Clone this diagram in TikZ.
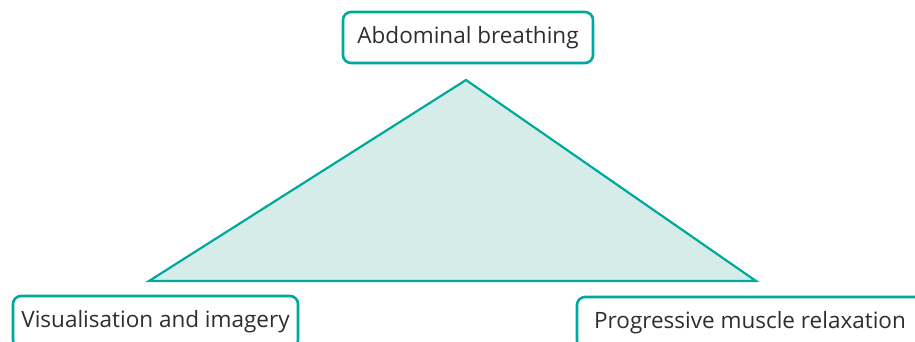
\documentclass[tikz,border=0pt]{standalone}
\usepackage{fontspec}
\setmainfont{Open Sans}
\definecolor{teal1}{HTML}{00A99D}
\definecolor{tealfill}{HTML}{D5ECE9}
\definecolor{txt}{HTML}{2E2E2E}
\begin{document}
\begin{tikzpicture}[x=1pt,y=-1pt,
  labelbox/.style={draw=teal1,line width=2.6pt,rounded corners=8pt,fill=white,
    text=txt,font=\fontsize{22.5}{26}\selectfont,inner sep=0pt,align=center},
]
\useasboundingbox (0,0) rectangle (915,341);
\clip (0,0) rectangle (915,341);
\coordinate (apex) at (466,80);
\coordinate (bl) at (149,281);
\coordinate (br) at (756,281);
\draw[teal1,fill=tealfill,line width=2.2pt,line join=miter] (apex) -- (br) -- (bl) -- cycle;
\node[labelbox,minimum width=250pt,minimum height=51pt] (top) at (468,37.5) {Abdominal breathing};
\node[labelbox,minimum width=285pt,minimum height=52pt] (left) at (155.5,322) {Visualisation and imagery};
\node[labelbox,minimum width=346pt,minimum height=52pt] (right) at (750,323) {Progressive muscle relaxation};
\end{tikzpicture}
\end{document}
